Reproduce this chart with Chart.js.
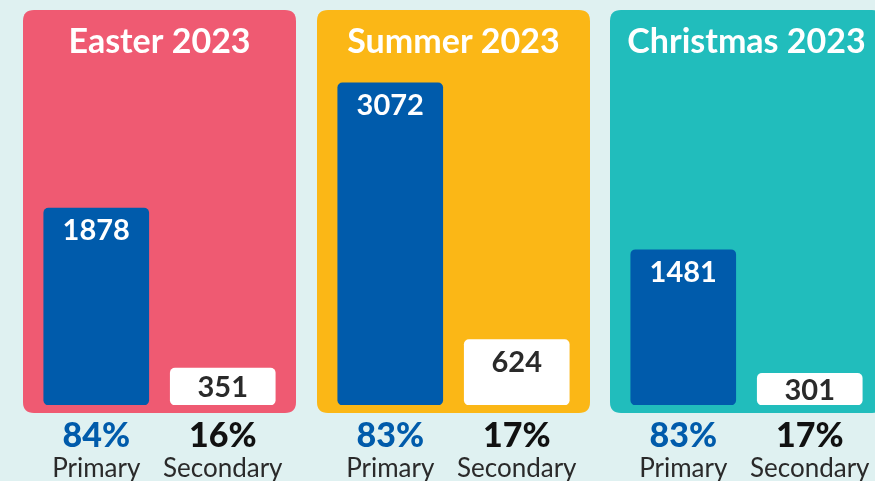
<!DOCTYPE html>
<html>
<head>
<meta charset="utf-8">
<script src="https://cdn.jsdelivr.net/npm/chart.js@4.4.0/dist/chart.umd.min.js"></script>
<style>
  html, body { margin: 0; padding: 0; }
  body { width: 875px; height: 481px; overflow: hidden; background: #dff1f1; position: relative; }
  canvas { position: absolute; top: 0; }
</style>
</head>
<body>
<canvas id="easter" width="273" height="481" style="left:23px"></canvas>
<canvas id="summer" width="273" height="481" style="left:317px"></canvas>
<canvas id="christmas" width="273" height="481" style="left:610px"></canvas>
<script>
// data
var categories = ['Primary', 'Secondary'];
var periods = ['Easter 2023', 'Summer 2023', 'Christmas 2023'];
var primary = [1878, 3072, 1481];
var secondary = [351, 624, 301];
var panelColors = ['#ef5a72', '#fbb716', '#21bdbc'];
var canvasIds = ['easter', 'summer', 'christmas'];

var blue = '#005bab';
var dark = '#111111';

function roundRect(ctx, x, y, w, h, r) {
    ctx.beginPath();
    ctx.moveTo(x + r, y);
    ctx.lineTo(x + w - r, y);
    ctx.quadraticCurveTo(x + w, y, x + w, y + r);
    ctx.lineTo(x + w, y + h - r);
    ctx.quadraticCurveTo(x + w, y + h, x + w - r, y + h);
    ctx.lineTo(x + r, y + h);
    ctx.quadraticCurveTo(x, y + h, x, y + h - r);
    ctx.lineTo(x, y + r);
    ctx.quadraticCurveTo(x, y, x + r, y);
    ctx.closePath();
}

var panelPlugin = {
    id: 'panel',
    beforeDraw: function(chart, args, opts) {
        var ctx = chart.ctx;
        ctx.save();
        ctx.fillStyle = opts.color;
        roundRect(ctx, 0, 10, chart.width, 403, 11);
        ctx.fill();
        ctx.fillStyle = '#ffffff';
        ctx.font = 'bold 34px Lato';
        ctx.textAlign = 'center';
        ctx.textBaseline = 'middle';
        ctx.fillText(opts.title, chart.width / 2, 42);
        ctx.restore();
    },
    afterDatasetsDraw: function(chart, args, opts) {
        var ctx = chart.ctx;
        var meta = chart.getDatasetMeta(0);
        var values = chart.data.datasets[0].data;
        var total = values[0] + values[1];
        ctx.save();
        ctx.textAlign = 'center';
        meta.data.forEach(function(bar, i) {
            var top = bar.y, bottom = bar.base;
            var cy = Math.min(top + 23, (top + bottom) / 2 + 1);
            ctx.font = 'bold 29px Lato';
            ctx.textBaseline = 'middle';
            ctx.fillStyle = i === 0 ? '#ffffff' : '#2a2a2a';
            ctx.fillText(values[i], bar.x, cy);

            var x = chart.scales.x.getPixelForValue(i);
            ctx.font = '900 34px Lato';
            ctx.fillStyle = i === 0 ? blue : dark;
            ctx.fillText(Math.round(values[i] / total * 100) + '%', x, 436);
            ctx.font = '26px Lato';
            ctx.textBaseline = 'alphabetic';
            ctx.fillStyle = '#2a2a2a';
            ctx.fillText(chart.data.labels[i], x, 477);
        });
        ctx.restore();
    }
};

for (var p = 0; p < periods.length; p++) {
    new Chart(document.getElementById(canvasIds[p]), {
        type: 'bar',
        data: {
            labels: categories,
            datasets: [{
                data: [primary[p], secondary[p]],
                backgroundColor: [blue, '#ffffff'],
                borderRadius: 5,
                borderSkipped: false,
                barThickness: 105
            }]
        },
        options: {
            responsive: false,
            animation: false,
            layout: { padding: { top: 38, bottom: 76, left: 10, right: 10 } },
            scales: {
                x: { display: false },
                y: { display: false, min: 0, max: 3500 }
            },
            plugins: {
                legend: { display: false },
                tooltip: { enabled: false },
                panel: { color: panelColors[p], title: periods[p] }
            }
        },
        plugins: [panelPlugin]
    });
}
</script>
</body>
</html>
